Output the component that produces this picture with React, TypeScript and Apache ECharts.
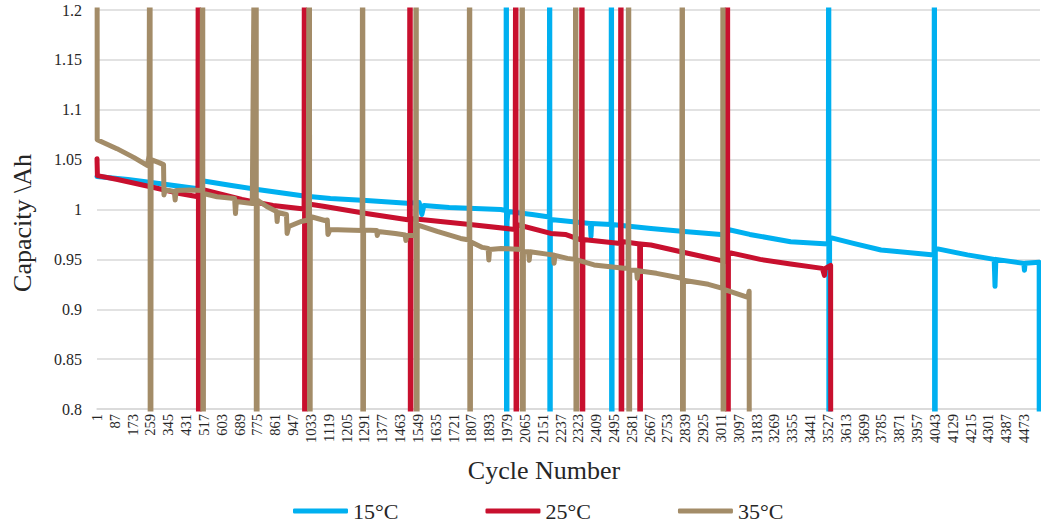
import React, { useEffect, useRef } from 'react';
import * as echarts from 'echarts';

const tickLabels = [
  1, 87, 173, 259, 345, 431, 517, 603, 689, 775, 861, 947, 1033, 1119, 1205, 1291, 1377, 1463,
  1549, 1635, 1721, 1807, 1893, 1979, 2065, 2151, 2237, 2323, 2409, 2495, 2581, 2667, 2753,
  2839, 2925, 3011, 3097, 3183, 3269, 3355, 3441, 3527, 3613, 3699, 3785, 3871, 3957, 4043,
  4129, 4215, 4301, 4387, 4473,
];

const seriesNames = ['15°C', '25°C', '35°C'];
const seriesColors = ['#00B0F0', '#C8102E', '#A38C68'];

// [cycle, capacity Ah]
const cap15: number[][] = [
  [1, 1.033], [150, 1.030], [300, 1.026], [480, 1.021], [497, 1.020], [500, 1.029], [650, 1.024],
  [775, 1.020], [1000, 1.0135], [1127, 1.011], [1300, 1.009], [1498, 1.0062], [1555, 1.007],
  [1568, 0.995], [1578, 1.004], [1700, 1.002], [1948, 1.0], [1974, 0.999], [1976, 1.5], [1977, 0],
  [1979, 0.988], [1984, 0.998], [2100, 0.995], [2183, 0.9925], [2185, 1.5], [2186, 0], [2188, 0.990],
  [2238, 0.989], [2381, 0.986], [2384, 0.973], [2387, 0.986], [2481, 0.985], [2483, 1.5], [2484, 0],
  [2486, 0.985], [2673, 0.981], [2834, 0.978], [3011, 0.975], [3041, 0.974], [3045, 0.980],
  [3150, 0.975], [3347, 0.9677], [3529, 0.9654], [3531, 1.5], [3532, 0], [3535, 0.972],
  [3650, 0.966], [3783, 0.9594], [4039, 0.9544], [4041, 1.5], [4042, 0], [4045, 0.961],
  [4200, 0.9545], [4329, 0.950], [4333, 0.923], [4337, 0.950], [4472, 0.946], [4475, 0.939],
  [4478, 0.946], [4546, 0.947], [4547, 0],
];

const cap25: number[][] = [
  [1, 1.051], [3, 1.034], [100, 1.030], [259, 1.0228], [400, 1.016], [488, 1.0128], [490, 1.5],
  [491, 0], [494, 1.021], [700, 1.010], [850, 1.004], [1000, 1.0005], [1002, 1.5], [1003, 0],
  [1006, 1.006], [1100, 1.003], [1300, 0.996], [1508, 0.9895], [1512, 1.5], [1513, 0],
  [1516, 0.991], [1800, 0.985], [2018, 0.980], [2022, 1.5], [2023, 0], [2026, 0.985],
  [2190, 0.976], [2260, 0.975], [2338, 0.9694], [2341, 1.5], [2342, 0], [2345, 0.970],
  [2526, 0.966], [2529, 1.5], [2530, 0], [2533, 0.968], [2619, 0.9655], [2621, 0], [2623, 0.9653],
  [2673, 0.9644], [2818, 0.9577], [3040, 0.9475], [3043, 1.5], [3044, 0], [3047, 0.957],
  [3200, 0.950], [3347, 0.9454], [3500, 0.941], [3510, 0.934], [3514, 0.941], [3540, 0.944],
  [3542, 0],
];

const cap35: number[][] = [
  [1, 1.5], [2, 1.07], [97, 1.061], [180, 1.052], [245, 1.044], [252, 1.054], [257, 1.5], [258, 0],
  [262, 1.05], [300, 1.047], [322, 1.045], [324, 1.0146], [330, 1.0195], [374, 1.018],
  [378, 1.0095], [383, 1.019], [450, 1.0195], [508, 1.019], [511, 1.5], [512, 0], [515, 1.016],
  [580, 1.0128], [665, 1.011], [669, 0.996], [673, 1.008], [750, 1.006], [769, 1.5], [770, 0],
  [774, 1.0095], [820, 1.003], [867, 0.998], [870, 0.988], [873, 0.997], [915, 0.995],
  [918, 0.976], [926, 0.983], [985, 0.988], [1020, 0.9895], [1026, 1.5], [1027, 0], [1030, 0.993],
  [1100, 0.989], [1112, 0.9895], [1115, 0.975], [1125, 0.980], [1200, 0.9795], [1280, 0.979],
  [1283, 1.5], [1284, 0], [1287, 0.9795], [1350, 0.979], [1353, 0.974], [1357, 0.978],
  [1440, 0.976], [1488, 0.9745], [1491, 0.969], [1495, 0.974], [1538, 0.974], [1541, 1.5],
  [1542, 0], [1546, 0.9845], [1642, 0.978], [1755, 0.971], [1796, 0.9694], [1799, 1.5], [1800, 0],
  [1803, 0.9677], [1860, 0.962], [1888, 0.961], [1891, 0.9494], [1895, 0.96], [1950, 0.961],
  [2050, 0.960], [2053, 1.5], [2054, 0], [2058, 0.958], [2083, 0.9577], [2086, 0.949],
  [2090, 0.9577], [2180, 0.955], [2203, 0.9544], [2206, 0.946], [2210, 0.954], [2270, 0.951],
  [2308, 0.950], [2311, 1.5], [2312, 0], [2316, 0.9494], [2399, 0.9444], [2544, 0.941],
  [2563, 0.941], [2566, 1.5], [2567, 0], [2571, 0.939], [2604, 0.939], [2607, 0.931],
  [2611, 0.9386], [2700, 0.936], [2822, 0.931], [2825, 1.5], [2826, 0], [2830, 0.929],
  [2950, 0.925], [3019, 0.921], [3021, 1.5], [3022, 0], [3025, 0.920], [3141, 0.912],
  [3147, 0.918], [3150, 0],
];

const seriesData = [cap15, cap25, cap35];

const FONT = 'Liberation Serif';

export default function App() {
  const ref = useRef<HTMLDivElement>(null);
  useEffect(() => {
    const chart = echarts.init(ref.current!, null, { renderer: 'svg' });
    chart.setOption({
      animation: false,
      backgroundColor: '#ffffff',
      grid: { left: 97, right: 1, top: 10, bottom: 117, containLabel: false },
      xAxis: {
        type: 'value',
        min: 1,
        max: 4550,
        axisLine: { show: true, lineStyle: { color: '#d9d9d9', width: 1.5 } },
        axisTick: { show: false },
        splitLine: { show: false },
        axisLabel: {
          customValues: tickLabels,
          formatter: (v: number) => String(v),
          rotate: 90,
          margin: 5,
          fontFamily: FONT,
          fontSize: 14.5,
          color: '#262626',
        },
      },
      yAxis: {
        type: 'value',
        min: 0.8,
        max: 1.2,
        interval: 0.05,
        axisLine: { show: false },
        axisTick: { show: false },
        splitLine: { show: true, lineStyle: { color: '#d9d9d9', width: 1.5 } },
        axisLabel: { margin: 15, fontFamily: FONT, fontSize: 16, color: '#262626' },
      },
      legend: {
        left: 293,
        top: 500,
        padding: 0,
        itemGap: 87,
        itemWidth: 55,
        itemHeight: 5,
        icon: 'roundRect',
        textStyle: { fontFamily: FONT, fontSize: 22, color: '#262626' },
        data: seriesNames,
      },
      graphic: [
        {
          type: 'text',
          x: 544,
          y: 470,
          style: {
            text: 'Cycle Number',
            fontFamily: FONT,
            fontSize: 26,
            fill: '#262626',
            textAlign: 'center',
            textVerticalAlign: 'middle',
          },
        },
        {
          type: 'text',
          x: 22,
          y: 223,
          rotation: Math.PI / 2,
          style: {
            text: 'Capacity \\Ah',
            fontFamily: FONT,
            fontSize: 26,
            fill: '#262626',
            textAlign: 'center',
            textVerticalAlign: 'middle',
          },
        },
      ],
      series: seriesNames.map((name, i) => ({
        name,
        type: 'line',
        data: seriesData[i],
        showSymbol: false,
        symbol: 'none',
        clip: true,
        color: seriesColors[i],
        lineStyle: { color: seriesColors[i], width: 5, cap: 'round', join: 'round' },
      })),
    });
    return () => chart.dispose();
  }, []);
  return (
    <div
      ref={ref}
      style={{ position: 'fixed', left: 0, top: 0, width: 1041, height: 526, background: '#fff' }}
    />
  );
}
